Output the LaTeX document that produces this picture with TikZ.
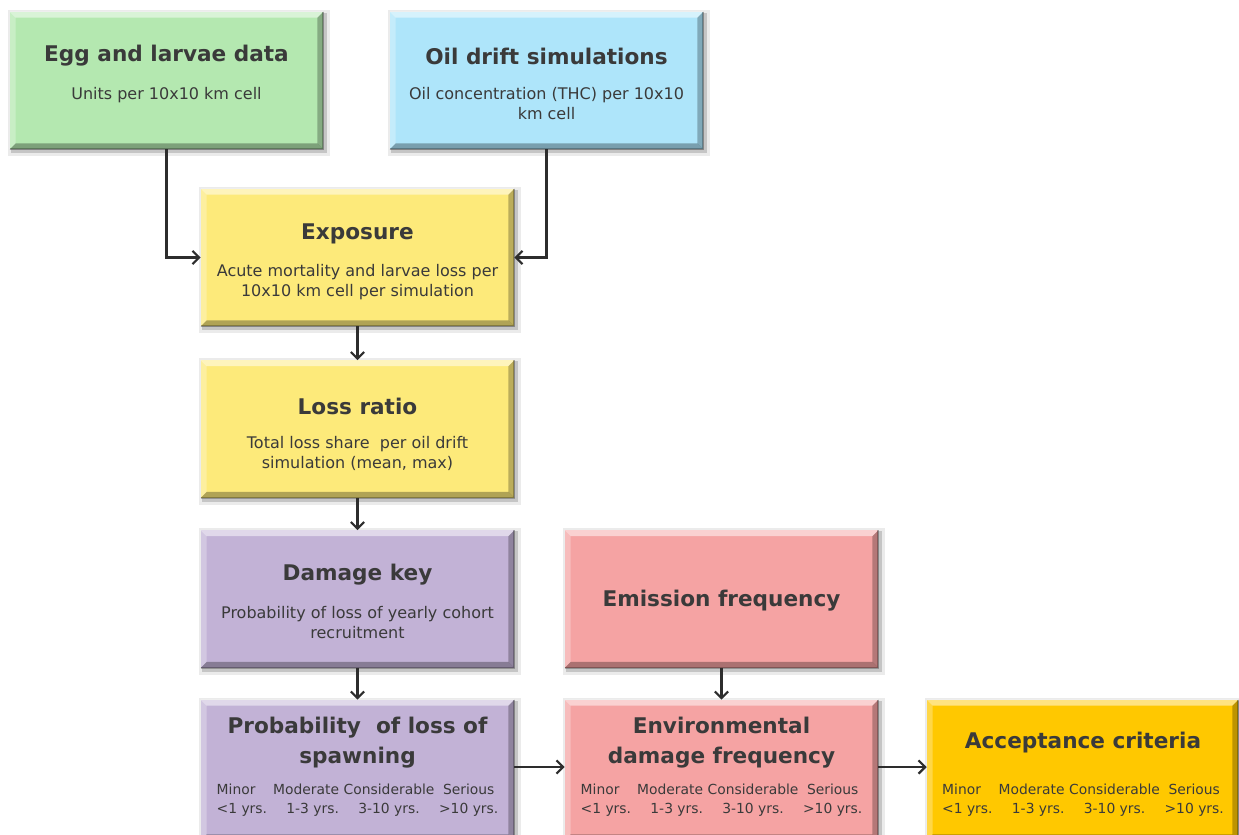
\documentclass[tikz,border=0pt]{standalone}
\usepackage{fontspec}
\setmainfont{DejaVu Sans}
\usetikzlibrary{arrows.meta,calc}

\definecolor{eggfill}{RGB}{180,232,176}
\definecolor{oilfill}{RGB}{174,229,250}
\definecolor{expfill}{RGB}{253,234,122}
\definecolor{dmgfill}{RGB}{194,178,214}
\definecolor{emifill}{RGB}{245,163,163}
\definecolor{accfill}{RGB}{255,200,0}
\definecolor{ink}{RGB}{58,58,58}
\definecolor{arrowink}{RGB}{45,45,45}

% beveled box edges: light top/left, dark right/bottom
\newcommand\bevelize[1]{%
  \fill[white,opacity=.5] (#1.north west) -- (#1.north east)
     -- ([shift={(-6,6)}]#1.north east) -- ([shift={(6,6)}]#1.north west) -- cycle;
  \fill[white,opacity=.28] (#1.north west) -- ([shift={(6,6)}]#1.north west)
     -- ([shift={(6,-6)}]#1.south west) -- (#1.south west) -- cycle;
  \fill[black,opacity=.26] (#1.north east) -- (#1.south east)
     -- ([shift={(-6,-6)}]#1.south east) -- ([shift={(-6,6)}]#1.north east) -- cycle;
  \fill[black,opacity=.30] (#1.south west) -- (#1.south east)
     -- ([shift={(-6,-6)}]#1.south east) -- ([shift={(6,-6)}]#1.south west) -- cycle;
  \draw[black,opacity=.25,line width=1.2pt] (#1.north east) -- (#1.south east) -- (#1.south west);
}
% soft drop shadow under a box
\newcommand\shadowize[1]{%
  \fill[black,opacity=.08] ([shift={(-2,-2)}]#1.north west) rectangle ([shift={(7,7)}]#1.south east);
  \fill[black,opacity=.16] ([shift={(1,1)}]#1.north west) rectangle ([shift={(4,4)}]#1.south east);
}

\tikzset{
  box/.style={rectangle, inner sep=0pt, minimum width=234.75pt, minimum height=102.75pt},
  ttl/.style={font=\bfseries\fontsize{16.2}{22.5}\selectfont, text=ink, align=center, inner sep=0pt},
  sub/.style={font=\fontsize{12}{15}\selectfont, text=ink, align=center, inner sep=0pt},
  tbl/.style={font=\fontsize{10.4}{14.2}\selectfont, text=ink, inner sep=0pt},
  flow/.style={draw=arrowink, line width=1.7pt, -{Straight Barb[length=5pt,width=10pt,line width=1.7pt]}},
}

\newcommand\classes{%
  \begin{tabular}{@{}l@{\hspace{4.5pt}}r@{\hspace{3.5pt}}c@{\hspace{3.5pt}}c@{}}
  Minor & Moderate & Considerable & Serious\\
  <1 yrs. & 1-3 yrs. & 3-10 yrs. & >10 yrs.
  \end{tabular}}

\begin{document}
\begin{tikzpicture}[x=0.75pt,y=-0.75pt]
\clip (0,0) rectangle (1239,835);
\fill[white] (0,0) rectangle (1239,835);

% box outlines (positions in pixel units)
\path
  node[box] (egg) at (166.5,80.5) {}
  node[box] (oil) at (546.5,80.5) {}
  node[box] (exp) at (357.5,257.5) {}
  node[box] (loss) at (357.5,429) {}
  node[box] (dmg) at (357.5,599) {}
  node[box] (emi) at (721.5,599) {}
  node[box, minimum height=105pt] (prob) at (357.5,770) {}
  node[box, minimum height=105pt] (env) at (721.5,770) {}
  node[box, minimum height=105pt, minimum width=233.25pt] (acc) at (1082.5,770) {};

\foreach \b in {egg,oil,exp,loss,dmg,emi,prob,env,acc} {\shadowize{\b}}

\fill[eggfill] (egg.north west) rectangle (egg.south east);
\fill[oilfill] (oil.north west) rectangle (oil.south east);
\fill[expfill] (exp.north west) rectangle (exp.south east);
\fill[expfill] (loss.north west) rectangle (loss.south east);
\fill[dmgfill] (dmg.north west) rectangle (dmg.south east);
\fill[dmgfill] (prob.north west) rectangle (prob.south east);
\fill[emifill] (emi.north west) rectangle (emi.south east);
\fill[emifill] (env.north west) rectangle (env.south east);
\fill[accfill] (acc.north west) rectangle (acc.south east);

\foreach \b in {egg,oil,exp,loss,dmg,emi,prob,env,acc} {\bevelize{\b}}

% labels
\node[ttl] (eggT) at (166.5,56) {Egg and larvae data};
\node[sub] (eggS) at (166.5,95) {Units per 10x10 km cell};

\node[ttl] (oilT) at (546.5,56) {Oil drift simulations};
\node[sub] (oilS) at (546.5,104) {Oil concentration (THC) per 10x10\\km cell};

\node[ttl] (expT) at (357.5,234) {Exposure};
\node[sub] (expS) at (357.5,282) {Acute mortality and larvae loss per\\10x10 km cell per simulation};

\node[ttl] (lossT) at (357.5,406) {Loss ratio};
\node[sub] (lossS) at (357.5,453.5) {Total loss share\ \ per oil drift\\simulation (mean, max)};

\node[ttl] (dmgT) at (357.5,575) {Damage key};
\node[sub] (dmgS) at (357.5,622.5) {Probability of loss of yearly cohort\\recruitment};

\node[ttl] (emiT) at (721.5,601) {Emission frequency};

\node[ttl] (probT) at (357.5,743) {Probability\ \ of loss of\\spawning};
\node[tbl] (probC) at (357.5,800.5) {\classes};

\node[ttl] (envT) at (721.5,743) {Environmental\\damage frequency};
\node[tbl] (envC) at (721.5,800.5) {\classes};

\node[ttl] (accT) at (1083,743) {Acceptance criteria};
\node[tbl] (accC) at (1083,800.5) {\classes};

% connectors
\draw[flow] (egg.south) |- (exp.west);
\draw[flow] (oil.south) |- (exp.east);
\draw[flow] (exp.south) -- (loss.north);
\draw[flow] (loss.south) -- (dmg.north);
\draw[flow] (dmg.south) -- (prob.north);
\draw[flow] (emi.south) -- (env.north);
\draw[flow] (prob.east |- 0,767) -- (env.west |- 0,767);
\draw[flow] (env.east |- 0,767) -- (acc.west |- 0,767);
\end{tikzpicture}
\end{document}
